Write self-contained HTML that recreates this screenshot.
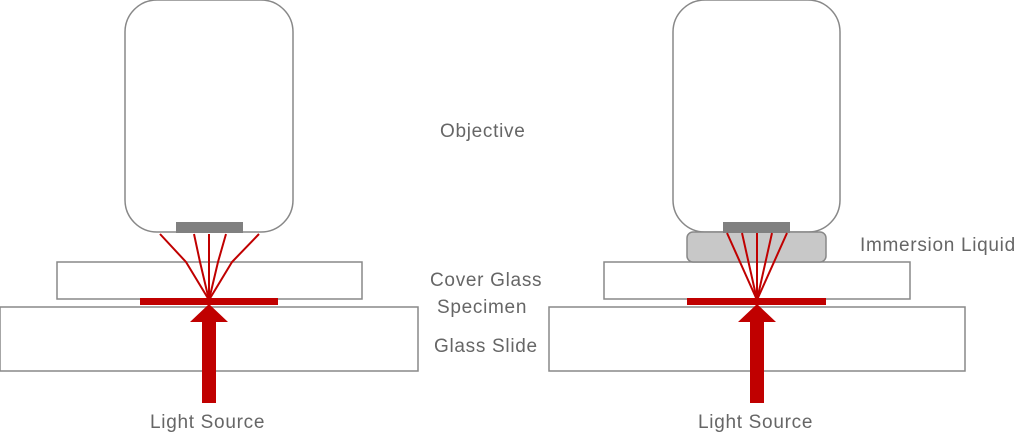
<!DOCTYPE html>
<html><head><style>
body{margin:0;background:#fff;width:1024px;height:439px;overflow:hidden}
text{font-family:"Liberation Sans",sans-serif;font-size:19px;fill:#666;letter-spacing:0.7px}
</style></head><body>
<svg width="1024" height="439" viewBox="0 0 1024 439">
<g fill="#fff" stroke="#888" stroke-width="1.5">
<rect x="125" y="0" width="168" height="232" rx="32"/>
<rect x="673" y="0" width="167" height="232" rx="32"/>
<rect x="57" y="262" width="305" height="37"/>
<rect x="0" y="307" width="418" height="64"/>
<rect x="604" y="262" width="306" height="37"/>
<rect x="549" y="307" width="416" height="64"/>
<rect x="687" y="232" width="139" height="30" rx="6" fill="#c8c8c8"/>
</g>
<rect x="176" y="222" width="67" height="11" fill="#808080"/>
<rect x="723" y="222" width="67" height="11" fill="#808080"/>
<g stroke="#c00000" stroke-width="2" fill="none">
<polyline points="160,234 186,262 209,300"/>
<polyline points="194,234 200,262 209,300"/>
<polyline points="209,234 209,300"/>
<polyline points="226,234 218,262 209,300"/>
<polyline points="259,234 232,262 209,300"/>
<line x1="727" y1="233" x2="757" y2="300"/>
<line x1="742" y1="233" x2="757" y2="300"/>
<line x1="757" y1="233" x2="757" y2="300"/>
<line x1="772" y1="233" x2="757" y2="300"/>
<line x1="787" y1="233" x2="757" y2="300"/>
</g>
<rect x="140" y="298" width="138" height="7" fill="#c00000"/>
<rect x="687" y="298" width="139" height="7" fill="#c00000"/>
<polygon points="209,304 228,322 216,322 216,403 202,403 202,322 190,322" fill="#c00000"/>
<polygon points="757,304 776,322 764,322 764,403 750,403 750,322 738,322" fill="#c00000"/>
<text x="440" y="137">Objective</text>
<text x="860" y="251">Immersion Liquid</text>
<text x="430" y="286">Cover Glass</text>
<text x="437" y="313">Specimen</text>
<text x="434" y="352">Glass Slide</text>
<text x="150" y="428">Light Source</text>
<text x="698" y="428">Light Source</text>
</svg>
</body></html>
